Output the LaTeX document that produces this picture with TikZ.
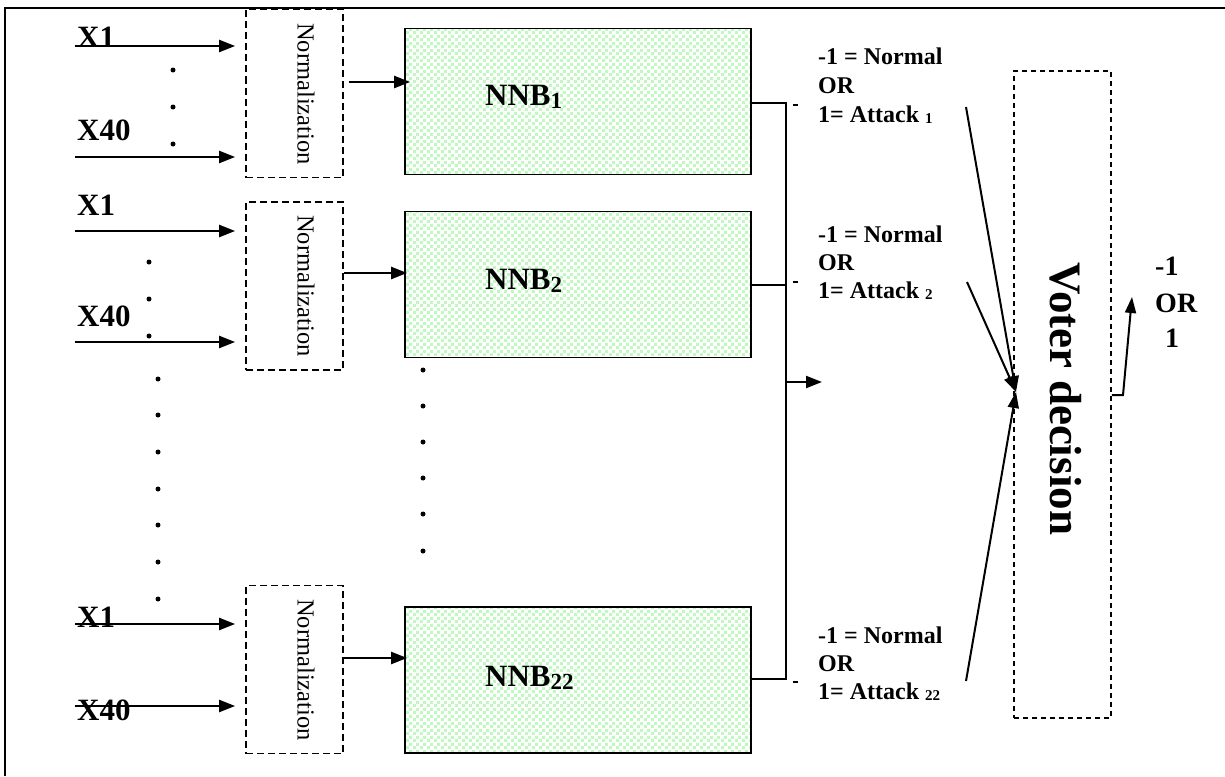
\documentclass[tikz,border=0pt]{standalone}
\usepackage{fontspec}
\setmainfont{Liberation Serif}
\usetikzlibrary{arrows.meta,patterns.meta}

\newcommand\setfs[1]{\fontsize{#1}{#1}\selectfont}
\definecolor{dotgreen}{RGB}{190,250,190}

% light green checker of small squares used inside the network blocks
\tikzdeclarepattern{
  name=greendots,
  type=colored,
  bottom left={(0pt,0pt)},
  top right={(7pt,7pt)},
  tile size={(7pt,7pt)},
  code={
    \fill[dotgreen] (0pt,0pt) rectangle (3.2pt,3.2pt);
    \fill[dotgreen] (3.5pt,3.5pt) rectangle (6.7pt,6.7pt);
  }
}

\tikzset{
  flow/.style={line width=2.3pt,-{Triangle[length=16pt,width=12pt]}},
  thinflow/.style={line width=2pt,-{Triangle[length=16pt,width=11pt]}},
  wire/.style={line width=2.3pt},
  normbox/.style={draw,line width=1.8pt,dash pattern=on 7pt off 4pt,
    minimum width=97pt,minimum height=168pt,inner sep=0pt},
  nnbbox/.style={draw,line width=1.8pt,preaction={fill=white},
    pattern=greendots,
    minimum width=346pt,minimum height=146pt,inner sep=0pt},
  voterbox/.style={draw,line width=1.5pt,dash pattern=on 5pt off 4pt,
    minimum width=97pt,minimum height=647pt,inner sep=0pt},
  xlab/.style={font=\bfseries\setfs{31}, anchor=base west, inner sep=0pt},
  nnblab/.style={font=\bfseries\setfs{31}, anchor=base west, inner sep=0pt},
  normlab/.style={font=\setfs{24.5}, rotate=-90, inner sep=0pt},
  outlab/.style={font=\bfseries\setfs{24}, anchor=base west, inner sep=0pt},
  reslab/.style={font=\bfseries\setfs{28}, anchor=base west, inner sep=0pt},
  dot/.style={fill=black}
}

\begin{document}
\begin{tikzpicture}[x=1pt,y=-1pt]
\useasboundingbox (0,0) rectangle (1225,776);

% frame
\draw[line width=2.2pt] (5,776) -- (5,8) -- (1225,8);

% normalisation stages
\node[normbox] (norm1) at (294.5,93.5) {};
\node[normbox] (norm2) at (294.5,286) {};
\node[normbox] (norm3) at (294.5,669.5) {};
\node[normlab] (nl1) at (306,94) {Normalization};
\node[normlab] (nl2) at (306,286) {Normalization};
\node[normlab] (nl3) at (306,670) {Normalization};

% network blocks
\node[nnbbox] (nnb1) at (578,101.5) {};
\node[nnbbox] (nnb2) at (578,284.5) {};
\node[nnbbox] (nnb22) at (578,680) {};
\node[nnblab] (t1) at (485,105) {NNB\raisebox{-3pt}{\setfs{23}1}};
\node[nnblab] (t2) at (485,289) {NNB\raisebox{-3pt}{\setfs{23}2}};
\node[nnblab] (t22) at (485,686) {NNB\raisebox{-3pt}{\setfs{23}22}};

% voter
\node[voterbox] (voter) at (1062.5,394.5) {};
\node[font=\bfseries\setfs{45}, rotate=-90, inner sep=0pt] (vt) at (1066,399) {Voter decision};

% inputs
\node[xlab] (a1) at (77,48) {X1};
\node[xlab] (a40) at (77,140) {X40};
\node[xlab] (b1) at (77,215) {X1};
\node[xlab] (b40) at (77,326) {X40};
\node[xlab] (c1) at (77,627) {X1};
\node[xlab] (c40) at (77,720) {X40};

\coordinate (ia1) at (75,46);
\coordinate (ia40) at (75,157);
\coordinate (ib1) at (75,231);
\coordinate (ib40) at (75,342);
\coordinate (ic1) at (75,624);
\coordinate (ic40) at (75,706);
\foreach \p/\n in {ia1/norm1,ia40/norm1,ib1/norm2,ib40/norm2,ic1/norm3,ic40/norm3}
  \draw[flow] (\p) -- ([xshift=-10pt]\p -| \n.west);

% normalisation to network
\draw[flow] ([xshift=5pt]norm1.east |- 0,82) -- ([xshift=6pt]nnb1.west |- 0,82);
\draw[flow] (norm2.east |- 0,273) -- ([xshift=3pt]nnb2.west |- 0,273);
\draw[flow] (norm3.east |- 0,658) -- ([xshift=3pt]nnb22.west |- 0,658);

% ellipsis dots
\foreach \y in {70,107,144} \fill[dot] (173,\y) circle (2.5pt);
\foreach \y in {262,299,336} \fill[dot] (149,\y) circle (2.5pt);
\foreach \y in {379,415,452,489,525,562,599} \fill[dot] (158,\y) circle (2.5pt);
\foreach \y in {370,406,442,478,514,551} \fill[dot] (423,\y) circle (2.5pt);

% output bus
\coordinate (bt) at (786,103);
\coordinate (bb) at (786,679);
\coordinate (bm) at (786,382);
\coordinate (be) at (822,382);
\draw[wire] (nnb1.east |- bt) -- (bt) -- (bb) -- (nnb22.east |- bb);
\draw[wire] (nnb2.east |- 0,285) -- (bt |- 0,285);
\draw[flow] (bm) -- (be);
\draw[line width=1.4pt] (793,105) -- (798,105);
\draw[line width=1.4pt] (793,282) -- (798,282);
\draw[line width=1.4pt] (793,682) -- (798,682);

% class labels
\node[outlab] (o1a) at (818,64) {-1 = Normal};
\node[outlab] (o1b) at (818,93) {OR};
\node[outlab] (o1c) at (818,122) {1= Attack \raisebox{-1pt}{\setfs{15}1}};
\node[outlab] (o2a) at (818,242) {-1 = Normal};
\node[outlab] (o2b) at (818,270) {OR};
\node[outlab] (o2c) at (818,298) {1= Attack \raisebox{-1pt}{\setfs{15}2}};
\node[outlab] (o3a) at (818,643) {-1 = Normal};
\node[outlab] (o3b) at (818,671) {OR};
\node[outlab] (o3c) at (818,699) {1= Attack \raisebox{-1pt}{\setfs{15}22}};

% votes into the voter
\coordinate (vin) at (1016,392);
\coordinate (v1) at (966,107);
\coordinate (v2) at (967,282);
\coordinate (v3) at (966,681);
\draw[thinflow] (v1) -- (vin);
\draw[thinflow] (v2) -- (vin);
\draw[thinflow] (v3) -- (vin);

% final decision
\coordinate (r1) at (1123,395);
\coordinate (r2) at (1132,297);
\draw[thinflow] (voter.east |- r1) -- (r1) -- (r2);
\node[reslab] (ra) at (1155,275) {-1};
\node[reslab] (rb) at (1155,312) {OR};
\node[reslab] (rc) at (1165,347) {1};
\end{tikzpicture}
\end{document}
